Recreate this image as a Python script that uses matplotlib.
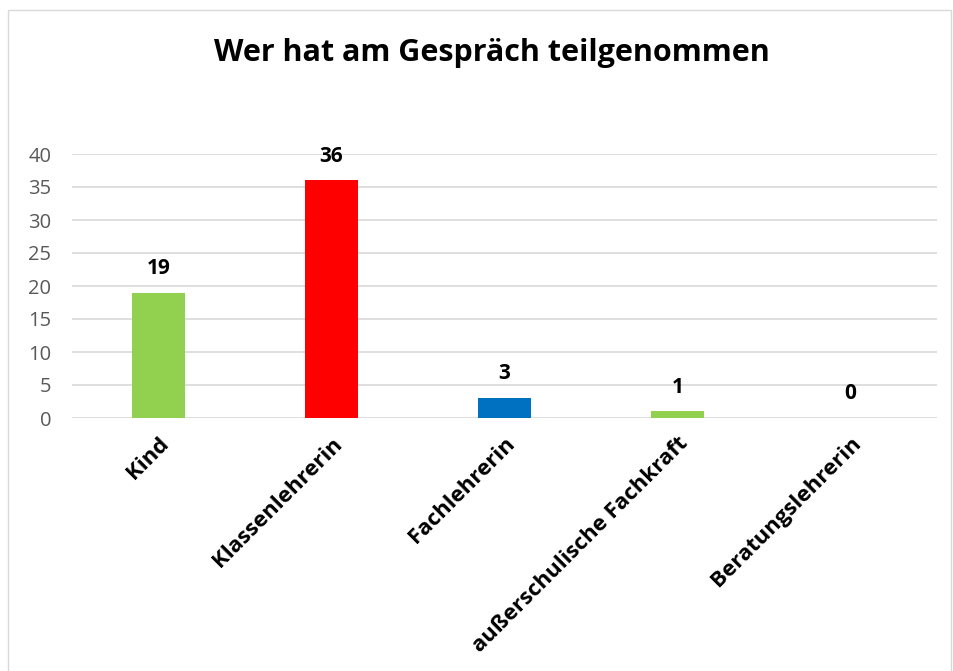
import matplotlib.pyplot as plt
from matplotlib.patches import Rectangle

categories = ['Kind', 'Klassenlehrerin', 'Fachlehrerin', 'außerschulische Fachkraft', 'Beratungslehrerin']
counts = [19, 36, 3, 1, 0]
colors = ['#92D050', '#FF0000', '#0070C0', '#92D050', '#92D050']
y_ticks = [0, 5, 10, 15, 20, 25, 30, 35, 40]

plt.rcParams['font.family'] = ['Open Sans', 'DejaVu Sans']

fig = plt.figure(figsize=(9.54, 6.71), dpi=100)
# light frame round the chart
fig.patches.append(Rectangle((8 / 954, -0.01), 943 / 954, 1 - 10 / 671 + 0.01,
                             transform=fig.transFigure, fill=False,
                             edgecolor='#D9D9D9', linewidth=1))

ax = fig.add_axes([72 / 954, 1 - 418 / 671, 865 / 954, 264 / 671])
x = range(len(categories))
ax.bar(x, counts, width=0.31, color=colors, zorder=3)

for i, v in enumerate(counts):
    ax.annotate(str(v), (i, v), xytext=(0, 10), textcoords='offset points',
                ha='center', va='bottom', fontsize=15, fontweight='bold', color='black')

ax.set_xlim(-0.5, 4.5)
ax.set_ylim(0, 40)
ax.set_yticks(y_ticks)
ax.set_xticks(list(x))
ax.set_xticklabels(categories, rotation=45, ha='right', va='top',
                   rotation_mode='anchor', fontsize=16, fontweight='bold')
ax.tick_params(axis='both', length=0)
ax.tick_params(axis='y', labelsize=14.5, labelcolor='#595959', pad=15)
ax.tick_params(axis='x', pad=11)
ax.grid(axis='y', color='#D9D9D9', linewidth=1.2, zorder=0)
for s in ax.spines.values():
    s.set_visible(False)

fig.text(492 / 954, 1 - 53 / 671, 'Wer hat am Gespräch teilgenommen', ha='center', va='center',
         fontsize=22, fontweight='bold', color='black')

fig.savefig('out.png', dpi=100)
